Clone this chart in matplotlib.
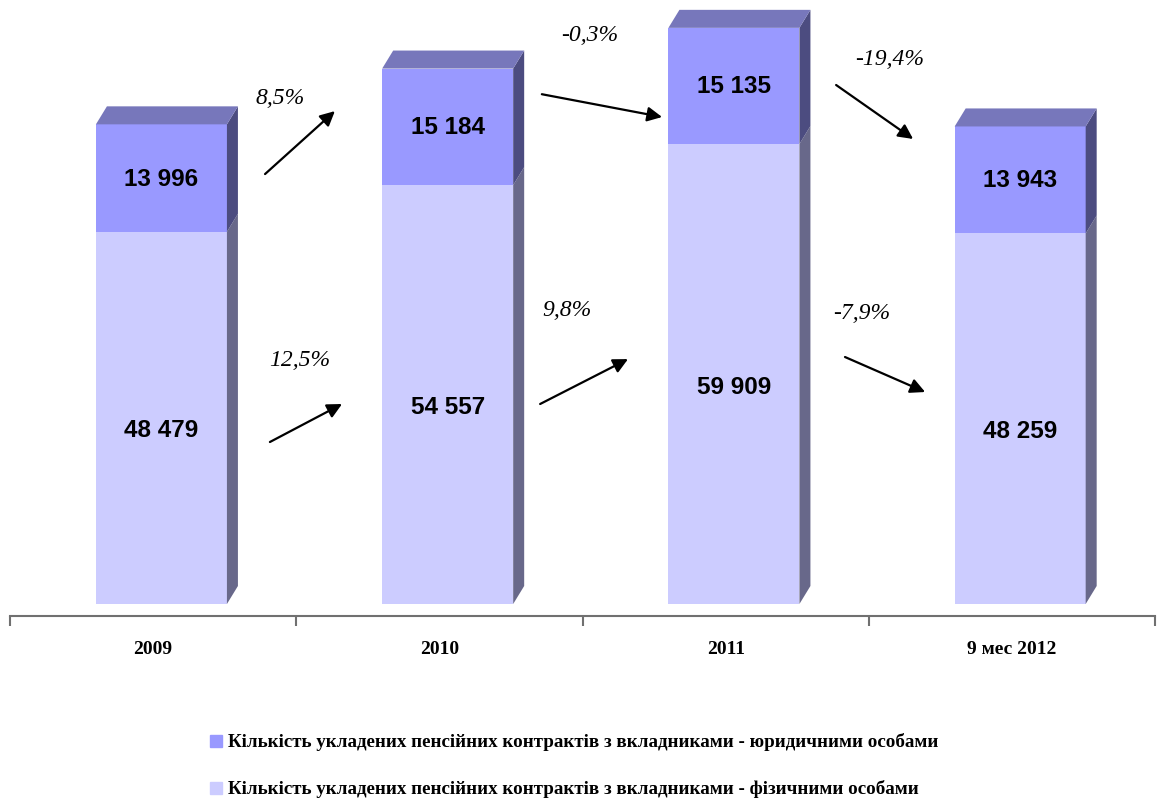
import numpy as np
import matplotlib
matplotlib.use("Agg")
import matplotlib.pyplot as plt
from matplotlib.patches import Polygon, Rectangle
from matplotlib import font_manager

# Données
categories = ["2009", "2010", "2011", "9 мес 2012"]
fizychni = [48479, 54557, 59909, 48259]      # physical persons (bottom)
yurydychni = [13996, 15184, 15135, 13943]    # legal persons (top)
pct_labels = ["8,5%", "12,5%", "-0,3%", "9,8%", "-19,4%", "-7,9%"]
legend_labels = [
    "Кількість укладених пенсійних контрактів з вкладниками - юридичними особами",
    "Кількість укладених пенсійних контрактів з вкладниками - фізичними особами",
]

# couleurs
c_bot, c_top = "#CCCCFF", "#9999FF"
c_bot_side, c_top_side = "#68688A", "#4C4C80"
c_roof = "#7777BB"

# layout of the growth annotations (text pos, arrow tail, arrow head) in data units
pct_pos = [(0.943, 66000), (1.013, 31900), (2.026, 74200),
           (1.946, 38400), (3.074, 71000), (2.976, 38000)]
arrows = [((0.891, 56000), (1.135, 64200)),
          ((0.908, 21100), (1.160, 26050)),
          ((1.858, 66400), (2.278, 63430)),
          ((1.852, 26050), (2.159, 31900)),
          ((2.886, 67600), (3.155, 60570)),
          ((2.917, 32170), (3.197, 27610))]

names = {f.name for f in font_manager.fontManager.ttflist}
if "Liberation Sans Narrow" in names:
    val_font, val_size = "Liberation Sans Narrow", 20
else:
    val_font, val_size = "Liberation Sans", 17.5
serif = "Liberation Serif"

W, H = 1159, 803
fig = plt.figure(figsize=(W / 100, H / 100), dpi=100)
ax = fig.add_axes([10 / W, (H - 617) / H, 1145 / W, 617 / H])

S = 130.25              # units per pixel vertically
PX = 286.25             # pixels per category
ax.set_xlim(0, 4)
ax.set_ylim(-12 * S, 605 * S)

x = np.arange(4) + 0.529
bw = 131 / PX
dx = 11 / PX
dy = 18 * S

ax.bar(x, fizychni, width=bw, color=c_bot, zorder=2)
ax.bar(x, yurydychni, width=bw, bottom=fizychni, color=c_top, zorder=2)

for i in range(4):
    r = x[i] + bw / 2
    l = x[i] - bw / 2
    b, t = fizychni[i], fizychni[i] + yurydychni[i]
    ax.add_patch(Polygon([(r, 0), (r + dx, dy), (r + dx, b + dy), (r, b)],
                         closed=True, color=c_bot_side, lw=0, zorder=2, clip_on=False))
    ax.add_patch(Polygon([(r, b), (r + dx, b + dy), (r + dx, t + dy), (r, t)],
                         closed=True, color=c_top_side, lw=0, zorder=2, clip_on=False))
    ax.add_patch(Polygon([(l, t), (l + dx, t + dy), (r + dx, t + dy), (r, t)],
                         closed=True, color=c_roof, lw=0, zorder=2, clip_on=False))
    # valeurs
    ax.text(x[i], b / 2 - 12 * S, f"{fizychni[i]:,}".replace(",", " "),
            ha="center", va="center", fontsize=val_size, fontweight="bold",
            family=val_font, zorder=3)
    ax.text(x[i], b + yurydychni[i] / 2, f"{yurydychni[i]:,}".replace(",", " "),
            ha="center", va="center", fontsize=val_size, fontweight="bold",
            family=val_font, zorder=3)

for lab, (px_, py_) in zip(pct_labels, pct_pos):
    ax.text(px_, py_, lab, ha="center", va="center", fontsize=17,
            style="italic", family=serif)
for (tail, head) in arrows:
    ax.annotate("", xy=head, xytext=tail,
                arrowprops=dict(arrowstyle="-|>", lw=1.6, color="black",
                                mutation_scale=22, shrinkA=0, shrinkB=0))

# axe
for s in ["left", "top", "right"]:
    ax.spines[s].set_visible(False)
ax.spines["bottom"].set_color("#707070")
ax.spines["bottom"].set_linewidth(1.5)
ax.set_yticks([])
ax.set_xticks(np.arange(5))
ax.set_xticklabels([])
ax.tick_params(axis="x", which="major", length=7, width=1.5, color="#707070", direction="out")
ax.set_xticks(np.arange(4) + 0.5, minor=True)
ax.set_xticklabels(categories, minor=True, fontsize=14, fontweight="bold", family=serif)
ax.tick_params(axis="x", which="minor", length=0, pad=17.5)

# légende
for j, (lab, col) in enumerate(zip(legend_labels, [c_top, c_bot])):
    yc = 742 + j * 47
    fig.add_artist(Rectangle((210 / W, (H - yc - 6) / H), 12 / W, 12 / H,
                             transform=fig.transFigure, color=col))
    fig.text(228 / W, (H - yc) / H, lab, ha="left", va="center",
             fontsize=13.7, fontweight="bold", family=serif)

fig.savefig("out.png", dpi=100)
